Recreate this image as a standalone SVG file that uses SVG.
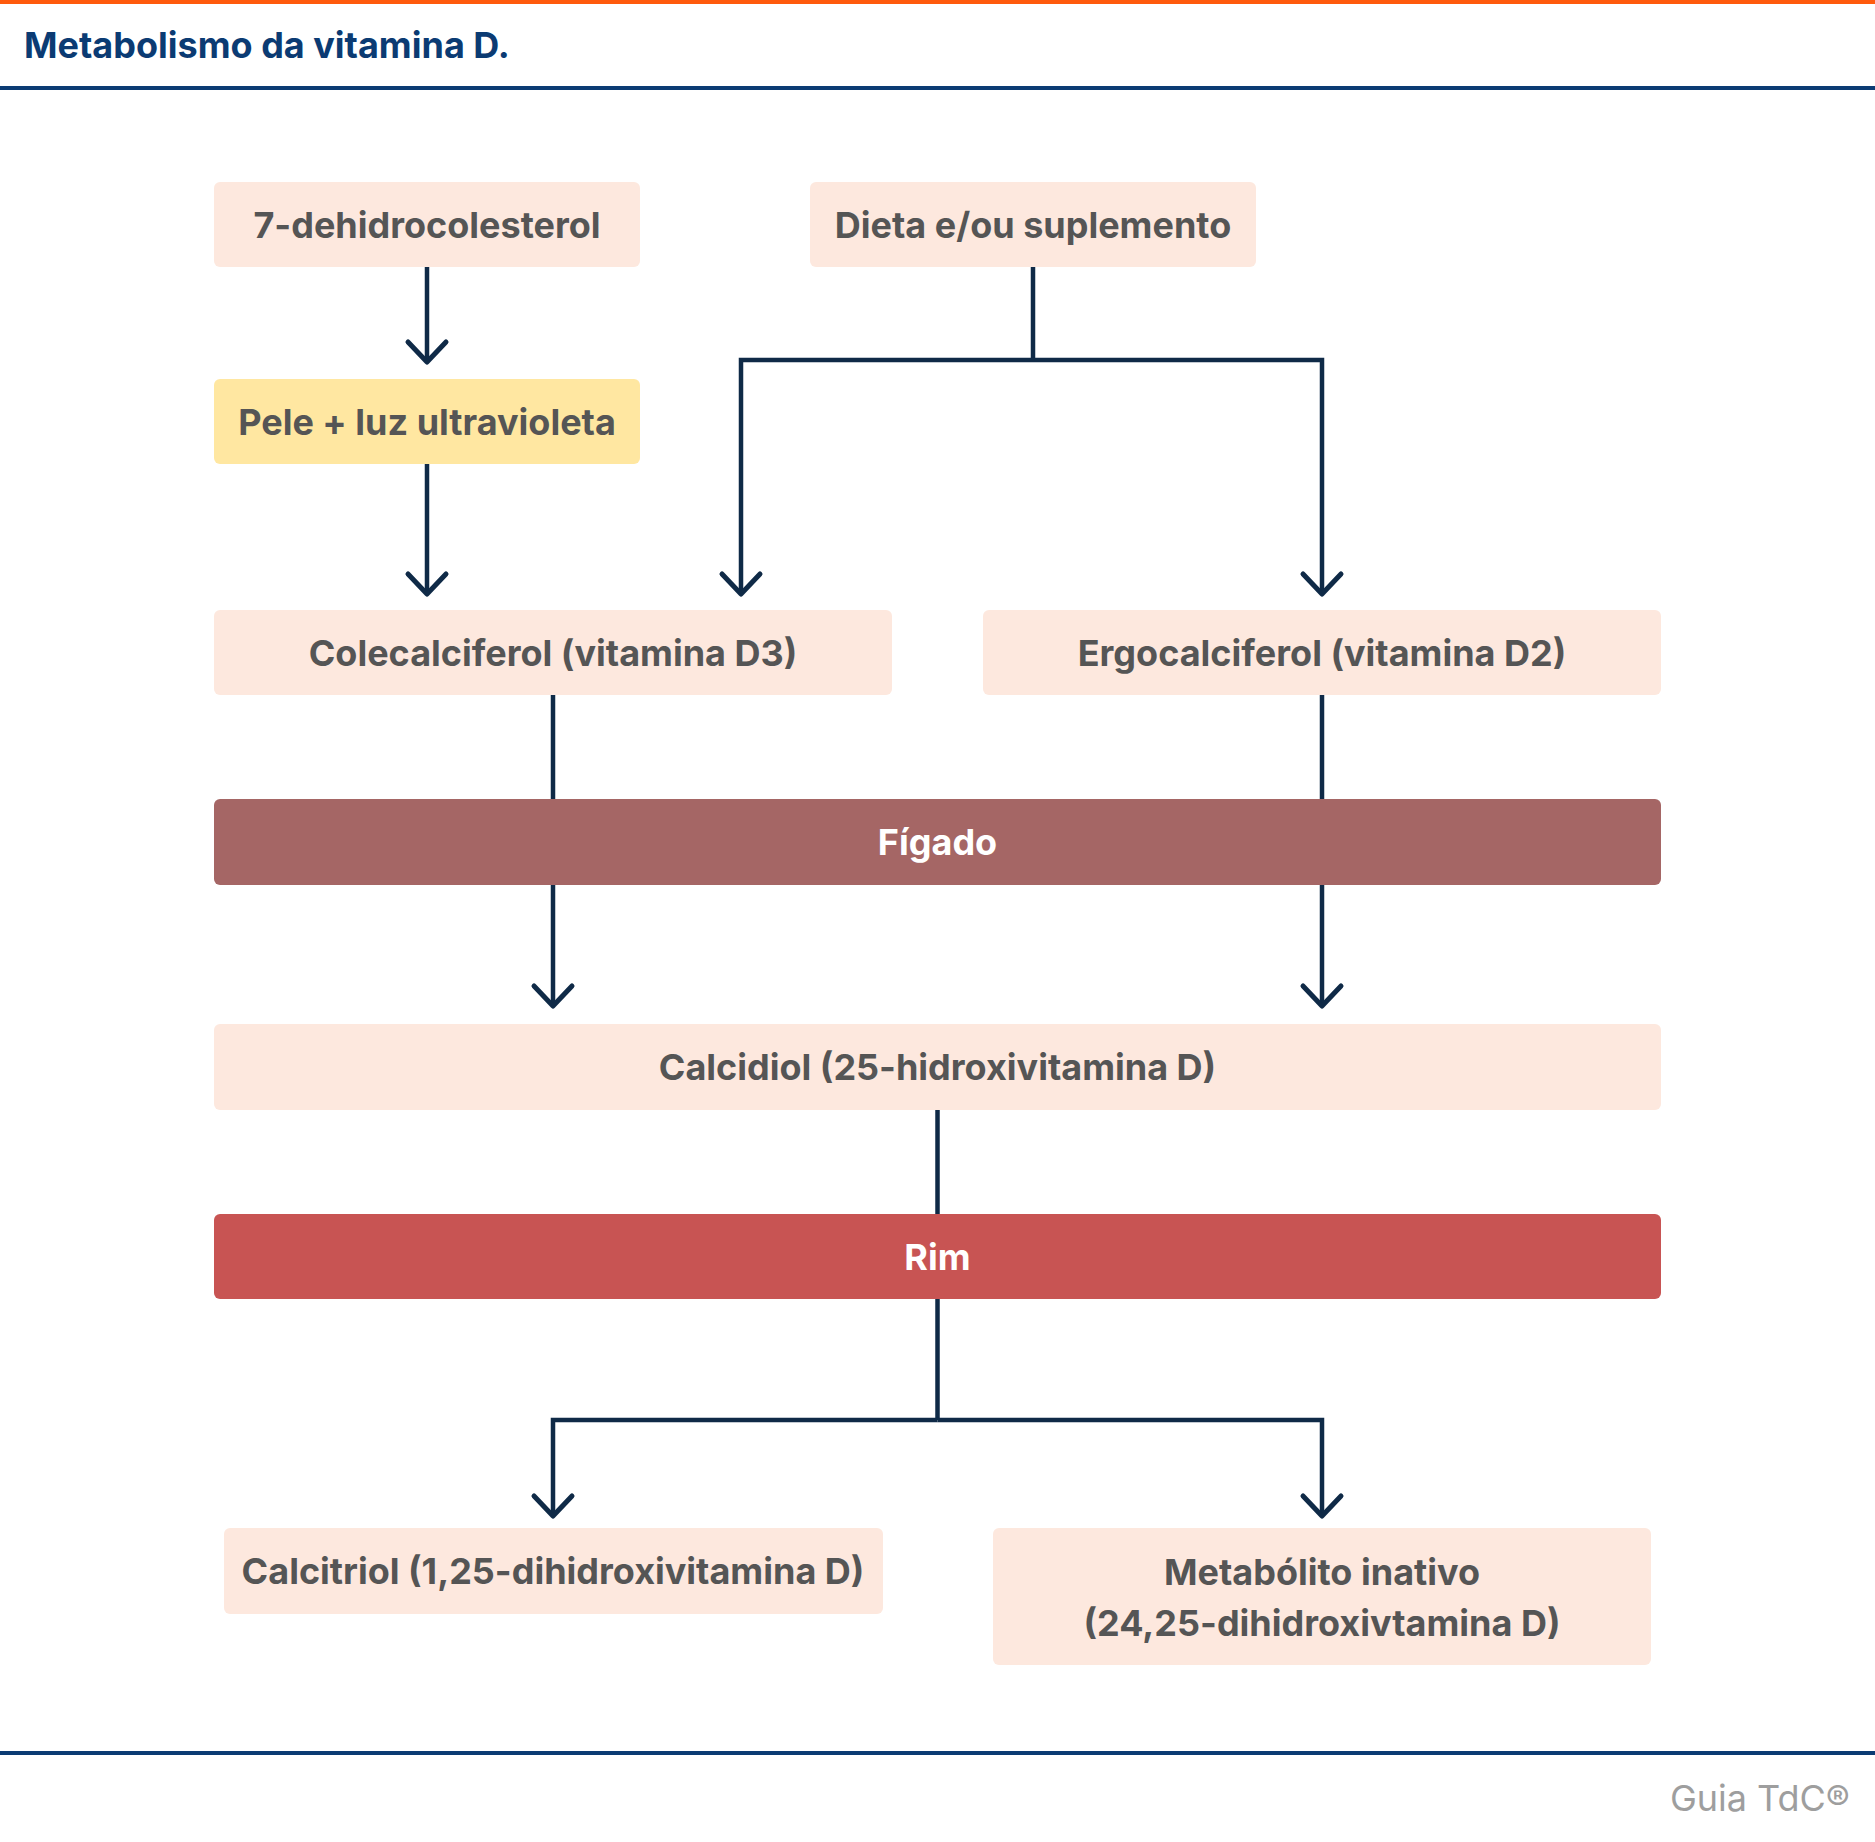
<svg xmlns="http://www.w3.org/2000/svg" width="1875" height="1842" viewBox="0 0 1875 1842">
<style>
.box{fill:#FDE8DE}
.yel{fill:#FFE7A1}
.liver{fill:#A56665}
.kid{fill:#C85453}
.t{font-family:Inter,"Noto Sans","Liberation Sans",sans-serif;font-weight:700;font-size:36px;fill:#555555;text-anchor:middle}
.tw{font-family:Inter,"Noto Sans","Liberation Sans",sans-serif;font-weight:700;font-size:36px;fill:#FFFFFF;text-anchor:middle}
.c{fill:none;stroke:#0F2A47;stroke-width:4.5}
.ca{fill:none;stroke:#0F2A47;stroke-width:4.5;marker-end:url(#chev)}
</style>
<defs>
<marker id="chev" markerUnits="userSpaceOnUse" viewBox="-26 -26 52 52" markerWidth="52" markerHeight="52" refX="0" refY="0" orient="auto">
<path d="M -20 -19 L 0 0 L -20 19" fill="none" stroke="#0F2A47" stroke-width="5" stroke-linecap="round" stroke-linejoin="round"/>
</marker>
</defs>
<rect x="0" y="0" width="1875" height="1842" fill="#FFFFFF"/>
<rect x="0" y="0" width="1875" height="4" fill="#FF5A0D"/>
<text x="24" y="58" font-family="Inter,'Noto Sans','Liberation Sans',sans-serif" font-weight="700" font-size="36" fill="#0B3B73">Metabolismo da vitamina D.</text>
<rect x="0" y="86" width="1875" height="4" fill="#0B3B73"/>
<rect x="0" y="1751" width="1875" height="4" fill="#0B3B73"/>
<text x="1850" y="1811" font-family="Inter,'Noto Sans','Liberation Sans',sans-serif" font-size="36" fill="#9E9E9E" text-anchor="end">Guia TdC®</text>

<g id="connectors">
<path class="ca" d="M 427 267 L 427 362"/>
<path class="ca" d="M 427 464 L 427 594"/>
<path class="c" d="M 1033 267 L 1033 360"/>
<path class="ca" d="M 1033 360 L 741 360 L 741 594"/>
<path class="ca" d="M 1033 360 L 1322 360 L 1322 594"/>
<path class="c" d="M 553 695 L 553 799"/>
<path class="ca" d="M 553 885 L 553 1006"/>
<path class="c" d="M 1322 695 L 1322 799"/>
<path class="ca" d="M 1322 885 L 1322 1006"/>
<path class="c" d="M 937.5 1110 L 937.5 1214"/>
<path class="c" d="M 937.5 1299 L 937.5 1420"/>
<path class="ca" d="M 937.5 1420 L 553 1420 L 553 1516"/>
<path class="ca" d="M 937.5 1420 L 1322 1420 L 1322 1516"/>
</g>

<g id="n-7dhc"><rect class="box" x="214" y="182" width="426" height="85" rx="6"/><text class="t" x="427" y="238">7-dehidrocolesterol</text></g>
<g id="n-dieta"><rect class="box" x="810" y="182" width="446" height="85" rx="6"/><text class="t" x="1033" y="238">Dieta e/ou suplemento</text></g>
<g id="n-pele"><rect class="yel" x="214" y="379" width="426" height="85" rx="6"/><text class="t" x="427" y="435">Pele + luz ultravioleta</text></g>
<g id="n-d3"><rect class="box" x="214" y="610" width="678" height="85" rx="6"/><text class="t" x="553" y="666">Colecalciferol (vitamina D3)</text></g>
<g id="n-d2"><rect class="box" x="983" y="610" width="678" height="85" rx="6"/><text class="t" x="1322" y="666">Ergocalciferol (vitamina D2)</text></g>
<g id="n-figado"><rect class="liver" x="214" y="799" width="1447" height="86" rx="6"/><text class="tw" x="937.5" y="855">Fígado</text></g>
<g id="n-calcidiol"><rect class="box" x="214" y="1024" width="1447" height="86" rx="6"/><text class="t" x="937.5" y="1080">Calcidiol (25-hidroxivitamina D)</text></g>
<g id="n-rim"><rect class="kid" x="214" y="1214" width="1447" height="85" rx="6"/><text class="tw" x="937.5" y="1270">Rim</text></g>
<g id="n-calcitriol"><rect class="box" x="224" y="1528" width="659" height="86" rx="6"/><text class="t" x="553" y="1584">Calcitriol (1,25-dihidroxivitamina D)</text></g>
<g id="n-inativo"><rect class="box" x="993" y="1528" width="658" height="137" rx="6"/><text class="t" x="1322" y="1585">Metabólito inativo</text><text class="t" x="1322" y="1636">(24,25-dihidroxivtamina D)</text></g>
</svg>
